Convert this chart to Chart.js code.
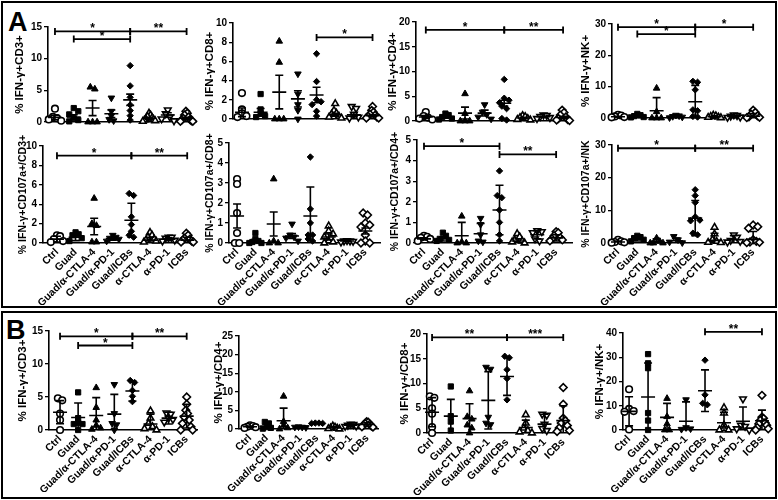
<!DOCTYPE html>
<html>
<head>
<meta charset="utf-8">
<script src="https://cdn.jsdelivr.net/npm/chart.js@4.4.1/dist/chart.umd.min.js"></script>
<style>
  body { margin: 0; background: #fff; width: 778px; height: 500px; position: relative; overflow: hidden; font-family: "Liberation Sans", Arial, sans-serif; }
  .box { position: absolute; border: 2px solid #000; box-sizing: border-box; }
  .tag { position: absolute; font-weight: bold; font-size: 27px; line-height: 1; }
  canvas { position: absolute; }
</style>
</head>
<body>
<div class="box" style="left:1px;top:1px;width:776px;height:307px"></div>
<div class="box" style="left:1px;top:311px;width:776px;height:188px"></div>
<div class="tag" style="left:8px;top:9px">A</div>
<div class="tag" style="left:6px;top:317px">B</div>

<script>
const categories = ['Ctrl', 'Guad', 'Guad/α-CTLA-4', 'Guad/α-PD-1', 'Guad/ICBs', 'α-CTLA-4', 'α-PD-1', 'ICBs'];

// Panel A, top row
const aCd3Ticks = [0, 5, 10, 15];
const aCd3Points = [[2.1, 0.8, 0.6, 0.4, 0.2], [2.2, 1.7, 1.2, 0.6, 0.3, 0.1], [5.5, 5.2, 0, 0, 0], [3.8, 1.7, 1.0, 0.4, 0.2],
  [8.9, 5.7, 3.9, 2.7, 1.8, 1.0, 0.3], [1.4, 1.1, 0.9, 0.7, 0.5, 0.4, 0.3, 0.2, 0.1], [1.9, 1.3, 0.8, 0.5, 0.2], [1.7, 1.4, 1.1, 0.8, 0.6, 0.4, 0.3, 0.2, 0.1, 0.1]];
const aCd3Means = [0.7, 0.8, 2.2, 1.3, 3.5, 0.6, 1.1, 0.6];
const aCd3Errs = [0.35, 0.35, 1.2, 0.6, 0.9, 0.15, 0.35, 0.15];
const aCd3Sig = [[0, 4, 14.3, '*'], [1, 4, 13.1, '*'], [4, 7, 14.3, '**']];

const aCd8Ticks = [0, 2, 4, 6, 8, 10];
const aCd8Points = [[2.7, 1.0, 0.6, 0.3, 0.2], [2.6, 1.0, 0.6, 0.3, 0.2], [8.1, 5.9, 0, 0, 0], [4.7, 2.6, 1.5, 0.9, 0],
  [6.8, 3.9, 2.0, 1.8, 1.5, 0.8, 0.3], [1.6, 0.9, 0.6, 0.5, 0.3, 0.2, 0.1], [1.3, 1.1, 0.5, 0.2, 0.1], [1.3, 0.9, 0.7, 0.5, 0.4, 0.3, 0.2, 0.1, 0.1]];
const aCd8Means = [0.7, 0.7, 2.8, 2.1, 2.5, 0.45, 0.45, 0.35];
const aCd8Errs = [0.45, 0.4, 1.75, 0.85, 0.8, 0.15, 0.2, 0.1];
const aCd8Sig = [[4, 7, 8.5, '*']];

const aCd4Ticks = [0, 5, 10, 15, 20];
const aCd4Points = [[1.8, 1.0, 0.7, 0.5, 0.3], [1.5, 1.2, 0.8, 0.5, 0.3], [5.5, 1.5, 0, 0, 0], [3.3, 1.8, 1.3, 0.8, 0.4],
  [8.4, 4.6, 4.2, 3.7, 3.0, 2.5, 0.5, 0.2], [1.1, 0.9, 0.7, 0.5, 0.3, 0.2], [1.2, 1.1, 0.9, 0.7, 0.5], [2.2, 1.7, 1.2, 0.8, 0.5, 0.3, 0.2, 0.1]];
const aCd4Means = [0.8, 0.75, 1.6, 1.6, 3.6, 0.6, 0.85, 0.7];
const aCd4Errs = [0.3, 0.2, 1.2, 0.6, 0.6, 0.15, 0.1, 0.25];
const aCd4Sig = [[0, 4, 18.4, '*'], [4, 7, 18.4, '**']];

const aNkTicks = [0, 10, 20, 30];
const aNkPoints = [[1.0, 0.8, 0.5, 0.3, 0.2], [1.3, 0.9, 0.6, 0.3, 0.2], [9.5, 2.0, 0, 0, 0], [0.9, 0.7, 0.5, 0.3, 0.1],
  [11.7, 11.4, 9.0, 2.6, 2.3, 0.5, 0.3], [0.9, 0.7, 0.5, 0.3, 0.2, 0.1], [1.0, 0.8, 0.6, 0.3, 0.2], [2.5, 1.8, 1.2, 0.7, 0.4, 0.2, 0.1]];
const aNkMeans = [0.4, 0.5, 2.3, 0.5, 5.2, 0.4, 0.5, 0.6];
const aNkErrs = [0.15, 0.15, 4.2, 0.3, 5.2, 0.3, 0.35, 0.8];
const aNkSig = [[0, 4, 29, '*'], [1, 4, 26.8, '*'], [4, 7, 29, '*']];

// Panel A, bottom row (CD107a+)
const aCd3aTicks = [0, 2, 4, 6, 8, 10];
const aCd3aPoints = [[0.8, 0.7, 0.4, 0.2, 0.1], [1.1, 0.9, 0.8, 0.5, 0.2], [4.6, 2.0, 1.8, 0.1, 0.1], [0.8, 0.6, 0.5, 0.4, 0.2],
  [5.1, 4.9, 2.7, 1.9, 1.2, 0.8, 0.6], [1.1, 0.8, 0.6, 0.4, 0.3, 0.2, 0.1], [0.6, 0.6, 0.5, 0.3, 0.2], [1.0, 0.8, 0.5, 0.4, 0.3, 0.2, 0.1, 0.1]];
const aCd3aMeans = [0.4, 0.6, 1.7, 0.45, 2.35, 0.3, 0.4, 0.3];
const aCd3aErrs = [0.3, 0.35, 0.85, 0.15, 1.75, 0.3, 0.15, 0.3];
const aCd3aSig = [[0, 4, 9.0, '*'], [4, 7, 9.0, '**']];

const aCd8aTicks = [0, 1, 2, 3, 4, 5];
const aCd8aPoints = [[3.2, 2.95, 1.5, 0.5, 0, 0], [0.5, 0.2, 0.1, 0.05, 0, 0], [3.2, 0.1, 0, 0], [0.95, 0.4, 0.3, 0.25, 0.1],
  [4.3, 1.7, 1.0, 0.4, 0.4, 0.2, 0.1], [0.85, 0.6, 0.45, 0.3, 0.1, 0.05, 0], [0.12, 0.1, 0.1, 0.08, 0.05], [1.5, 1.4, 1.0, 0.9, 0.8, 0.4, 0.1, 0, 0]];
const aCd8aMeans = [1.35, 0.1, 0.95, 0.35, 1.35, 0.3, 0.1, 0.6];
const aCd8aErrs = [0.6, 0.08, 0.6, 0.12, 1.45, 0.15, 0.02, 0.15];
const aCd8aSig = [];

const aCd4aTicks = [0, 1, 2, 3, 4, 5];
const aCd4aPoints = [[0.35, 0.3, 0.25, 0.2, 0.1], [0.5, 0.35, 0.2, 0.15, 0.1], [1.3, 0.05, 0, 0], [1.2, 0.9, 0.4, 0.1, 0.05],
  [3.5, 2.3, 2.2, 1.6, 1.0, 0.4, 0.1], [0.45, 0.3, 0.15, 0.1, 0.05, 0], [0.6, 0.55, 0.5, 0.2, 0.1], [0.55, 0.5, 0.35, 0.25, 0.2, 0.15, 0.1]];
const aCd4aMeans = [0.2, 0.2, 0.35, 0.45, 1.6, 0.1, 0.4, 0.25];
const aCd4aErrs = [0.05, 0.1, 0.65, 0.5, 1.2, 0.1, 0.2, 0.15];
const aCd4aSig = [[0, 4, 4.7, '*'], [4, 7, 4.3, '**']];

const aNkaTicks = [0, 10, 20, 30];
const aNkaPoints = [[1.0, 0.5, 0.3, 0.2, 0.1], [2.2, 1.8, 1.5, 1.0, 0.5], [1.5, 0.5, 0, 0, 0], [2.0, 1.0, 0.3, 0.1],
  [16.3, 14.5, 12.4, 8.0, 7.0, 6.8, 3.0, 2.5], [4.8, 2.8, 1.0, 0.5, 0.2, 0.1], [2.5, 1.8, 0.8, 0.5, 0.3], [5.5, 5.0, 4.5, 1.0, 0.5, 0.3, 0.2, 0.1]];
const aNkaMeans = [0.3, 1.2, 0.5, 0.7, 7.6, 0.8, 1.0, 1.1];
const aNkaErrs = [0.3, 0.6, 0.8, 0.8, 5.4, 2.2, 1.2, 2.4];
const aNkaSig = [[0, 4, 29, '*'], [4, 7, 29, '**']];

// Panel B
const bCd3Ticks = [0, 5, 10, 15];
const bCd3Points = [[4.8, 4.5, 2.5, 1.5, 0], [5.7, 1.8, 1.1, 0.9, 0.9, 0], [6.4, 3.4, 1.5, 0.7, 0.3, 0.1], [6.9, 2.5, 1.0, 0.8, 0],
  [7.5, 7.2, 6.0, 5.1, 4.3], [2.9, 1.8, 1.0, 0.5, 0.2, 0], [2.6, 2.4, 1.8, 1.6, 1.2], [5.0, 3.9, 3.0, 2.5, 2.0, 1.5, 1.0, 0.5, 0, 0]];
const bCd3Means = [2.7, 1.9, 2.2, 2.4, 5.9, 0.9, 1.8, 2.1];
const bCd3Errs = [1.75, 2.2, 2.7, 3.0, 1.5, 1.5, 0.9, 1.8];
const bCd3Sig = [[0, 4, 14.2, '*'], [1, 4, 12.8, '*'], [4, 7, 14.2, '**']];

const bCd4Ticks = [0, 5, 10, 15, 20, 25];
const bCd4Points = [[1.0, 0.8, 0.6, 0.5, 0.3], [1.9, 1.5, 0.5, 0.3, 0.1], [8.8, 2.0, 1.0, 0.3, 0], [0.6, 0.5, 0.5, 0.4],
  [1.6, 1.5, 1.5, 1.6], [0.8, 0.5, 0.3, 0.2, 0.1, 0], [1.3, 1.2, 1.0, 0.8, 0.7], [2.0, 1.8, 1.5, 1.3, 1.0, 0.8, 0.6, 0.5]];
const bCd4Means = [0.6, 0.7, 2.2, 0.5, 1.55, 0.3, 1.0, 1.2];
const bCd4Errs = [0.2, 0.7, 3.4, 0.1, 0.05, 0.3, 0.3, 0.5];
const bCd4Sig = [];

const bCd8Ticks = [0, 5, 10, 15, 20];
const bCd8Points = [[7.4, 7.1, 5.0, 3.9, 1.2, 0], [9.4, 3.4, 2.3, 0.5], [8.5, 3.3, 2.8, 1.6, 1.0, 0], [13.3, 12.9, 3.2, 2.0, 1.7],
  [15.5, 15.2, 12.8, 11.0, 6.7], [3.7, 2.0, 1.0, 0.5, 0.2, 0], [3.8, 3.6, 1.8, 0.9, 0.5], [9.2, 5.8, 3.0, 2.5, 2.0, 1.5, 1.0, 0.5, 0.3]];
const bCd8Means = [4.2, 3.4, 2.9, 6.6, 11.4, 1.1, 1.8, 2.5];
const bCd8Errs = [2.95, 3.4, 3.0, 5.8, 3.8, 1.5, 2.0, 3.0];
const bCd8Sig = [[0, 4, 19.3, '**'], [4, 7, 19.3, '***']];

const bNkTicks = [0, 10, 20, 30, 40];
const bNkPoints = [[16.8, 8.7, 7.8, 7.5, 0.2], [31.3, 27.5, 25.5, 7.0, 3.9, 0], [13.0, 5.5, 2.5, 0, 0], [12.5, 1.0, 0.5, 0.3],
  [28.8, 14.5, 11.0, 10.4], [9.2, 7.0, 2.0, 0.5, 0, 0], [12.8, 2.0, 1.5, 0.5, 0], [14.3, 5.3, 4.8, 4.0, 3.0, 2.5, 2.0, 1.0, 0.5, 0]];
const bNkMeans = [7.7, 13.6, 5.2, 3.6, 16.2, 3.0, 3.6, 3.8];
const bNkErrs = [6.0, 14.0, 5.8, 8.0, 8.6, 4.3, 5.9, 4.4];
const bNkSig = [[4, 7, 40.5, '**']];

// one marker per group, GraphPad style
const markers = [
  { style: 'circle', rot: 0, fill: false, r: 3.3 },
  { style: 'rect', rot: 0, fill: true, r: 3.7 },
  { style: 'triangle', rot: 0, fill: true, r: 3.8 },
  { style: 'triangle', rot: 180, fill: true, r: 3.8 },
  { style: 'rectRot', rot: 0, fill: true, r: 3.2 },
  { style: 'triangle', rot: 0, fill: false, r: 3.8 },
  { style: 'triangle', rot: 180, fill: false, r: 3.8 },
  { style: 'rectRot', rot: 0, fill: false, r: 3.8 },
];

const FONT = '"Liberation Sans", Arial, sans-serif';
Chart.defaults.font.family = FONT;
Chart.defaults.color = '#000';

// spread points with close values sideways (centre, right, left, ...), like a column scatter
function spread(values, ymax) {
  const order = values.map((v, k) => k).sort((a, b) => values[b] - values[a]);
  const off = new Array(values.length).fill(0);
  const gap = ymax * 0.035;
  let run = [order[0]];
  const flush = () => {
    const n = run.length;
    const step = n > 1 ? Math.min(0.24, 0.66 / (n - 1)) : 0;
    const slots = run.map((k, j) => (j % 2 ? 1 : -1) * Math.ceil(j / 2));
    const shift = n % 2 ? 0 : 0.5;
    run.forEach((k, j) => { off[k] = (slots[j] - shift) * step; });
  };
  for (let j = 1; j < order.length; j++) {
    if (values[run[run.length - 1]] - values[order[j]] < gap) run.push(order[j]);
    else { flush(); run = [order[j]]; }
  }
  flush();
  return off;
}

// mean + error bars and the significance brackets
function statsPlugin(means, errs, sig) {
  return {
    id: 'stats',
    afterDatasetsDraw(chart) {
      const { ctx, scales: { x, y } } = chart;
      ctx.save();
      ctx.strokeStyle = '#000';
      ctx.fillStyle = '#000';
      ctx.lineWidth = 1.6;
      means.forEach((m, i) => {
        const px = x.getPixelForValue(i);
        const low = m - errs[i];
        const pm = y.getPixelForValue(m);
        const hi = y.getPixelForValue(m + errs[i]);
        const lo = y.getPixelForValue(Math.max(0, low));
        ctx.beginPath();
        ctx.moveTo(px - 7, pm); ctx.lineTo(px + 7, pm);
        ctx.moveTo(px, lo); ctx.lineTo(px, hi);
        ctx.moveTo(px - 4, hi); ctx.lineTo(px + 4, hi);
        if (low > 0) { ctx.moveTo(px - 4, lo); ctx.lineTo(px + 4, lo); }
        ctx.stroke();
      });
      ctx.lineWidth = 1.8;
      ctx.font = 'bold 12px ' + FONT;
      ctx.textAlign = 'center';
      ctx.textBaseline = 'alphabetic';
      sig.forEach(([a, b, v, label]) => {
        const xa = x.getPixelForValue(a);
        const xb = x.getPixelForValue(b);
        const py = y.getPixelForValue(v);
        ctx.beginPath();
        ctx.moveTo(xa, py); ctx.lineTo(xb, py);
        ctx.moveTo(xa, py - 3.5); ctx.lineTo(xa, py + 3.5);
        ctx.moveTo(xb, py - 3.5); ctx.lineTo(xb, py + 3.5);
        ctx.stroke();
        ctx.fillText(label, (xa + xb) / 2, py + 1);
      });
      ctx.restore();
    }
  };
}

// area: [left, right, top, bottom] of the plot frame, tx = centre of the y title
const plots = [
  { area: [48, 196, 27, 126], tx: 20, xr: [-0.37, 7.5], title: '% IFN-γ+CD3+', ticks: aCd3Ticks, points: aCd3Points, means: aCd3Means, errs: aCd3Errs, sig: aCd3Sig, labels: false, tf: 11.5 },
  { area: [233, 380, 23, 123], tx: 210, xr: [-0.48, 7.4], title: '% IFN-γ+CD8+', ticks: aCd8Ticks, points: aCd8Points, means: aCd8Means, errs: aCd8Errs, sig: aCd8Sig, labels: false, tf: 11.5 },
  { area: [416, 567, 22, 125], tx: 393, xr: [-0.5, 7.2], title: '% IFN-γ+CD4+', ticks: aCd4Ticks, points: aCd4Points, means: aCd4Means, errs: aCd4Errs, sig: aCd4Sig, labels: false, tf: 11.5 },
  { area: [612, 758, 24, 122], tx: 586, xr: [-0.31, 7.25], title: '% IFN-γ+NK+', ticks: aNkTicks, points: aNkPoints, means: aNkMeans, errs: aNkErrs, sig: aNkSig, labels: false, tf: 11.5 },
  { area: [43, 190, 146, 243], tx: 23, xr: [-0.75, 7.15], title: '% IFN-γ+CD107a+/CD3+', ticks: aCd3aTicks, points: aCd3aPoints, means: aCd3aMeans, errs: aCd3aErrs, sig: aCd3aSig, labels: true, tf: 10.5 },
  { area: [229, 380, 143, 243], tx: 210, xr: [-0.44, 7.8], title: '% IFN-γ+CD107a+/CD8+', ticks: aCd8aTicks, points: aCd8aPoints, means: aCd8aMeans, errs: aCd8aErrs, sig: aCd8aSig, labels: true, tf: 10.5 },
  { area: [417, 572, 140, 243], tx: 395, xr: [-0.37, 7.84], title: '% IFN-γ+CD107a+/CD4+', ticks: aCd4aTicks, points: aCd4aPoints, means: aCd4aMeans, errs: aCd4aErrs, sig: aCd4aSig, labels: true, tf: 10.5 },
  { area: [612, 757, 145, 243], tx: 586, xr: [-0.31, 7.2], title: '% IFN-γ+CD107a+/NK', ticks: aNkaTicks, points: aNkaPoints, means: aNkaMeans, errs: aNkaErrs, sig: aNkaSig, labels: true, tf: 10.5 },
  { area: [49, 197, 331, 430], tx: 23, xr: [-0.61, 7.57], title: '% IFN-γ+/CD3+', ticks: bCd3Ticks, points: bCd3Points, means: bCd3Means, errs: bCd3Errs, sig: bCd3Sig, labels: true, tf: 11.5 },
  { area: [239, 378, 336, 429], tx: 219, xr: [-0.66, 7.63], title: '% IFN-γ+/CD4+', ticks: bCd4Ticks, points: bCd4Points, means: bCd4Means, errs: bCd4Errs, sig: bCd4Sig, labels: true, tf: 11.5 },
  { area: [427, 570, 334, 433], tx: 405, xr: [-0.27, 7.36], title: '% IFN-γ+/CD8+', ticks: bCd8Ticks, points: bCd8Points, means: bCd8Means, errs: bCd8Errs, sig: bCd8Sig, labels: true, tf: 11.5 },
  { area: [623, 765, 333, 430], tx: 600, xr: [-0.32, 7.16], title: '% IFN-γ+/NK+', ticks: bNkTicks, points: bNkPoints, means: bNkMeans, errs: bNkErrs, sig: bNkSig, labels: true, tf: 11.5 },
];

plots.forEach((p) => {
  const [l, r, t, b] = p.area;
  const lh = p.tf * 1.2;
  const left = Math.round(p.tx - lh / 2);
  const top = t - 24;
  const xh = p.labels ? 62 : 4;
  const width = r + 10 - left;
  const height = b + xh - top;

  const canvas = document.createElement('canvas');
  canvas.width = width;
  canvas.height = height;
  canvas.style.left = left + 'px';
  canvas.style.top = top + 'px';
  document.body.appendChild(canvas);

  const ymax = p.ticks[p.ticks.length - 1];
  const datasets = p.points.map((vals, i) => {
    const m = markers[i];
    const off = spread(vals, ymax);
    return {
      data: vals.map((v, k) => ({ x: i + off[k], y: v })),
      pointStyle: m.style,
      pointRotation: m.rot,
      pointRadius: m.r,
      pointBackgroundColor: m.fill ? '#000' : '#fff',
      pointBorderColor: '#000',
      pointBorderWidth: m.fill ? 1 : 1.6,
      clip: false,
    };
  });

  new Chart(canvas, {
    type: 'scatter',
    data: { datasets },
    options: {
      responsive: false,
      animation: false,
      events: [],
      layout: { padding: { top: 24, right: 10, left: 0, bottom: 0 } },
      plugins: { legend: { display: false }, tooltip: { enabled: false } },
      scales: {
        x: {
          type: 'linear',
          min: p.xr[0],
          max: p.xr[1],
          afterBuildTicks: (s) => { s.ticks = categories.map((c, i) => ({ value: i })); },
          afterFit: (s) => { s.height = xh; },
          ticks: {
            display: p.labels,
            autoSkip: false,
            minRotation: 45,
            maxRotation: 45,
            padding: 3,
            font: { size: 10.5, weight: 'bold' },
            callback: (v) => categories[v],
          },
          grid: { display: false, drawTicks: false },
          border: { display: true, color: '#000', width: 1.6 },
        },
        y: {
          min: 0,
          max: ymax,
          afterBuildTicks: (s) => { s.ticks = p.ticks.map((v) => ({ value: v })); },
          afterFit: (s) => { s.width = l - left; },
          ticks: { padding: 2, font: { size: 10, weight: 'bold' } },
          grid: { display: true, drawOnChartArea: false, drawTicks: true, tickLength: 4, color: '#000', lineWidth: 1.3 },
          border: { display: true, color: '#000', width: 1.6 },
          title: { display: true, text: p.title, padding: 0, font: { size: p.tf, weight: 'bold' } },
        },
      },
    },
    plugins: [statsPlugin(p.means, p.errs, p.sig)],
  });
});
</script>
</body>
</html>
